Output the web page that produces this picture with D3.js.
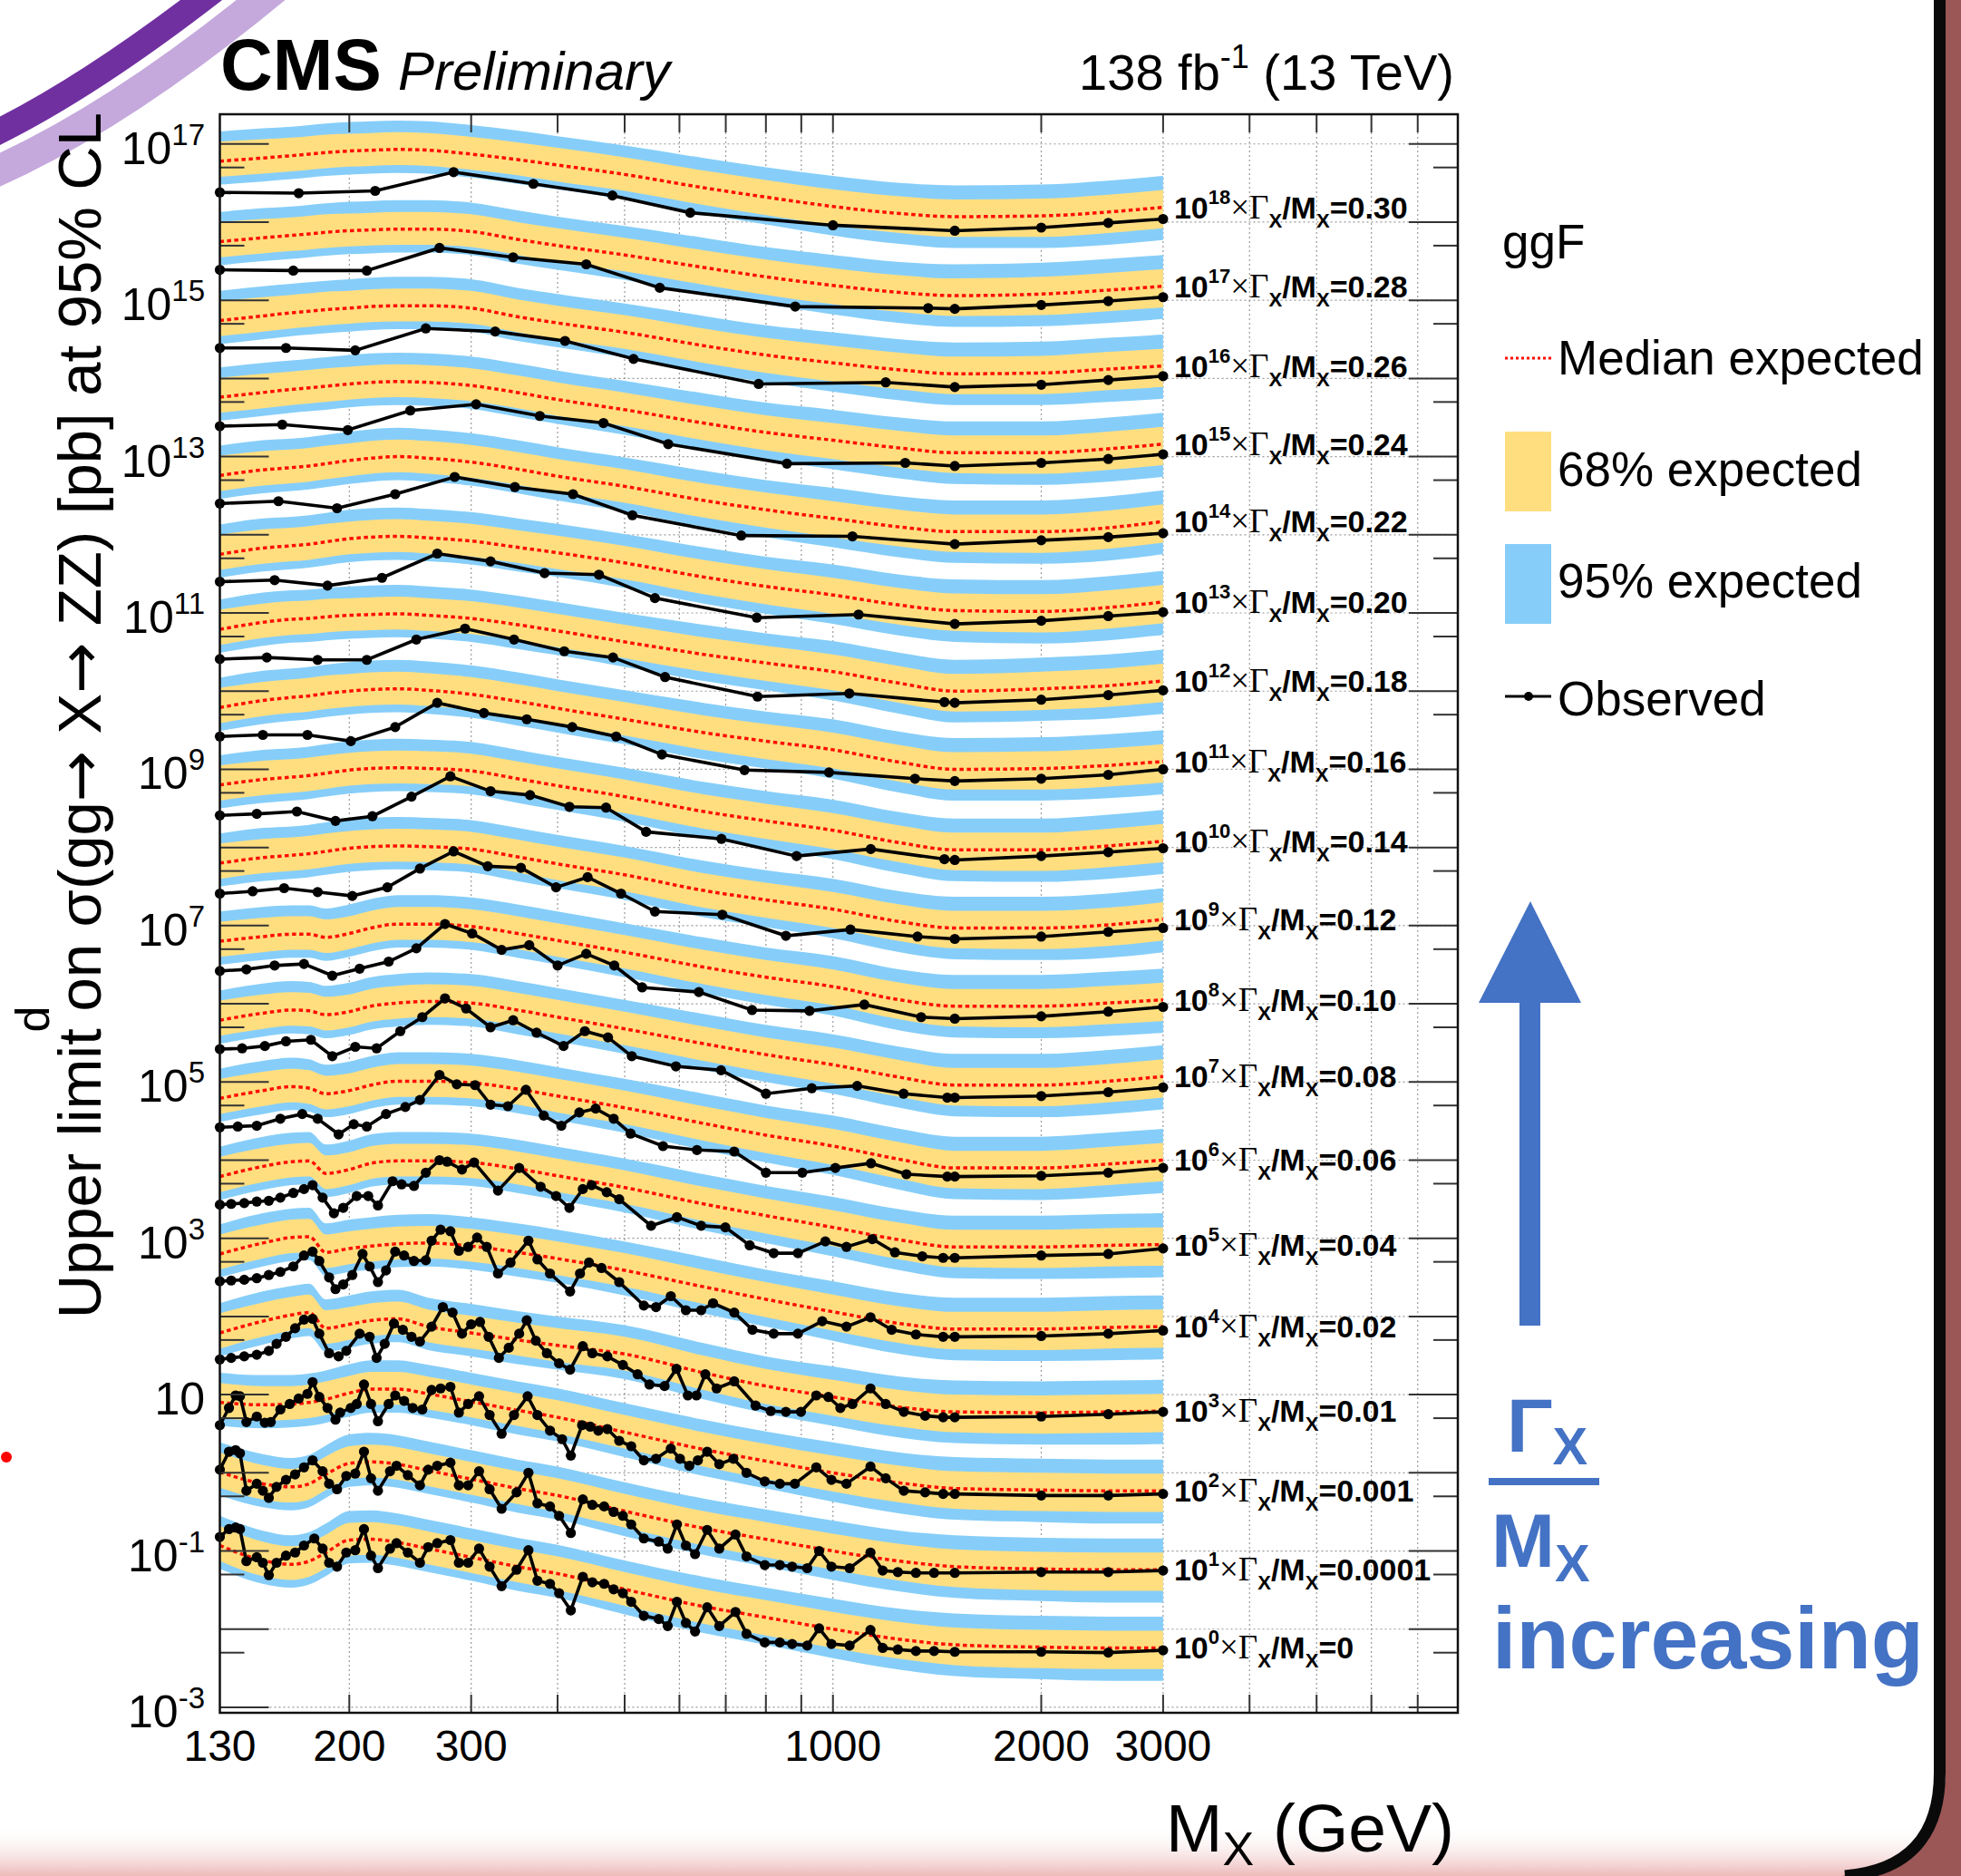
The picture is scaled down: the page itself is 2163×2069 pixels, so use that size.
<!DOCTYPE html>
<html>
<head>
<meta charset="utf-8">
<script src="https://cdn.jsdelivr.net/npm/d3@7"></script>
<style>
  body { margin: 0; background: #fff; }
  svg { display: block; }
  text { font-family: "Liberation Sans", Arial, Helvetica, sans-serif; }
</style>
</head>
<body>
<div id="chart"></div>
<script>
// ---- data (values are log10 of the limit in pb, before the 10^n offset) ----
const widthLabels = ["0.30", "0.28", "0.26", "0.24", "0.22", "0.20", "0.18", "0.16", "0.14", "0.12",
                     "0.10", "0.08", "0.06", "0.04", "0.02", "0.01", "0.001", "0.0001", "0"];
const scalePowers = [18, 17, 16, 15, 14, 13, 12, 11, 10, 9, 8, 7, 6, 5, 4, 3, 2, 1, 0];

const xTickLabels = [130, 200, 300, 1000, 2000, 3000];
const yTickLabelPowers = [17, 15, 13, 11, 9, 7, 5, 3, 1, -1, -3];

const expMass = [130, 150, 165, 175, 185, 200, 215, 235, 260, 300, 350, 400, 500, 650, 800, 1000, 1250, 1500, 2000, 2500, 3000];
// band half-widths in decades around the median
const bandUp2 = [0.38, 0.38, 0.37, 0.37, 0.37, 0.37, 0.37, 0.37, 0.37, 0.37, 0.37, 0.37, 0.37, 0.38, 0.38, 0.39, 0.39, 0.40, 0.40, 0.40, 0.40];
const bandUp1 = [0.25, 0.24, 0.23, 0.23, 0.23, 0.22, 0.22, 0.22, 0.22, 0.22, 0.22, 0.22, 0.22, 0.22, 0.22, 0.22, 0.22, 0.22, 0.22, 0.22, 0.22];
const bandDn1 = [0.20, 0.20, 0.20, 0.20, 0.20, 0.20, 0.20, 0.20, 0.20, 0.20, 0.20, 0.21, 0.21, 0.22, 0.23, 0.24, 0.25, 0.26, 0.27, 0.27, 0.27];
const bandDn2 = [0.30, 0.30, 0.30, 0.30, 0.30, 0.30, 0.30, 0.30, 0.30, 0.30, 0.31, 0.31, 0.32, 0.34, 0.35, 0.37, 0.39, 0.40, 0.41, 0.42, 0.42];

const med_0_30 = [-1.22, -1.18, -1.15, -1.13, -1.11, -1.09, -1.08, -1.07, -1.08, -1.13, -1.20, -1.27, -1.39, -1.56, -1.68, -1.80, -1.89, -1.93, -1.92, -1.87, -1.81];
const med_0_28 = [-1.25, -1.20, -1.17, -1.15, -1.13, -1.11, -1.10, -1.09, -1.09, -1.12, -1.22, -1.30, -1.42, -1.58, -1.70, -1.81, -1.90, -1.94, -1.92, -1.87, -1.82];
const med_0_26 = [-1.26, -1.20, -1.16, -1.14, -1.12, -1.10, -1.08, -1.07, -1.07, -1.10, -1.21, -1.29, -1.41, -1.58, -1.70, -1.80, -1.89, -1.94, -1.93, -1.88, -1.84];
const med_0_24 = [-1.24, -1.18, -1.14, -1.12, -1.10, -1.07, -1.05, -1.04, -1.05, -1.09, -1.18, -1.27, -1.40, -1.57, -1.69, -1.79, -1.89, -1.95, -1.95, -1.90, -1.84];
const med_0_22 = [-1.24, -1.17, -1.14, -1.12, -1.09, -1.05, -1.02, -1.00, -1.02, -1.07, -1.16, -1.25, -1.38, -1.56, -1.68, -1.79, -1.90, -1.96, -1.96, -1.91, -1.83];
const med_0_20 = [-1.25, -1.17, -1.14, -1.12, -1.09, -1.05, -1.03, -1.02, -1.04, -1.08, -1.16, -1.23, -1.36, -1.54, -1.66, -1.77, -1.90, -1.97, -1.98, -1.93, -1.86];
const med_0_18 = [-1.21, -1.12, -1.08, -1.07, -1.05, -1.03, -1.02, -1.01, -1.03, -1.07, -1.15, -1.23, -1.37, -1.53, -1.64, -1.75, -1.90, -2.00, -1.97, -1.93, -1.87];
const med_0_16 = [-1.21, -1.12, -1.08, -1.06, -1.03, -1.00, -0.98, -0.97, -0.99, -1.04, -1.13, -1.22, -1.36, -1.53, -1.64, -1.75, -1.91, -2.00, -1.99, -1.95, -1.90];
const med_0_14 = [-1.20, -1.13, -1.10, -1.08, -1.05, -1.01, -0.99, -0.98, -0.99, -1.02, -1.12, -1.21, -1.35, -1.54, -1.66, -1.78, -1.94, -2.03, -2.03, -1.98, -1.92];
const med_0_12 = [-1.20, -1.13, -1.10, -1.08, -1.05, -1.01, -0.99, -0.98, -0.99, -1.02, -1.12, -1.21, -1.35, -1.55, -1.67, -1.79, -1.95, -2.03, -2.03, -1.99, -1.92];
const med_0_10 = [-1.20, -1.14, -1.11, -1.11, -1.15, -1.10, -1.03, -0.98, -0.98, -1.01, -1.10, -1.19, -1.34, -1.53, -1.66, -1.78, -1.95, -2.03, -2.03, -1.99, -1.95];
const med_0_08 = [-1.21, -1.12, -1.08, -1.09, -1.14, -1.10, -1.03, -0.99, -0.97, -0.99, -1.08, -1.17, -1.32, -1.51, -1.65, -1.78, -1.94, -2.04, -2.04, -1.99, -1.93];
const med_0_06 = [-1.21, -1.11, -1.06, -1.08, -1.15, -1.11, -1.04, -0.99, -0.99, -1.01, -1.09, -1.18, -1.33, -1.53, -1.68, -1.82, -1.99, -2.10, -2.10, -2.05, -2.00];
const med_0_04 = [-1.21, -1.08, -1.02, -1.01, -1.17, -1.12, -1.04, -1.01, -1.01, -1.03, -1.11, -1.20, -1.35, -1.56, -1.71, -1.86, -2.02, -2.11, -2.11, -2.09, -2.08];
const med_0_02 = [-1.20, -1.06, -0.99, -0.98, -1.18, -1.13, -1.10, -1.07, -1.06, -1.10, -1.18, -1.26, -1.41, -1.62, -1.78, -1.94, -2.09, -2.16, -2.16, -2.14, -2.13];
const med_0_01 = [-1.21, -1.06, -0.98, -0.95, -1.15, -1.10, -1.05, -1.03, -1.13, -1.21, -1.30, -1.37, -1.48, -1.72, -1.89, -2.03, -2.16, -2.22, -2.23, -2.22, -2.21];
const med_0_001 = [-1.10, -1.13, -1.12, -1.10, -1.06, -0.98, -0.93, -0.93, -0.99, -1.09, -1.20, -1.29, -1.48, -1.70, -1.85, -2.00, -2.13, -2.20, -2.22, -2.23, -2.23];
const med_0_0001 = [-0.99, -1.14, -1.18, -1.14, -1.02, -0.88, -0.86, -0.89, -0.97, -1.08, -1.20, -1.29, -1.49, -1.71, -1.85, -2.00, -2.13, -2.20, -2.23, -2.24, -2.24];
const med_0 = [-0.93, -1.12, -1.17, -1.13, -1.02, -0.86, -0.85, -0.89, -0.97, -1.08, -1.20, -1.29, -1.49, -1.71, -1.85, -2.00, -2.13, -2.20, -2.23, -2.24, -2.24];

// observed: [mass GeV, log10 limit]
const obs_0_30 = [[130,-1.62],[169,-1.63],[218,-1.60],[283,-1.36],[369,-1.51],[480,-1.66],[622,-1.88],[1000,-2.04],[1500,-2.11],[2000,-2.07],[2500,-2.01],[3000,-1.96]];
const obs_0_28 = [[130,-1.61],[166,-1.62],[212,-1.62],[270,-1.33],[345,-1.45],[440,-1.54],[562,-1.84],[882,-2.08],[1373,-2.10],[1500,-2.11],[2000,-2.06],[2500,-2.01],[3000,-1.96]];
const obs_0_26 = [[130,-1.61],[162,-1.61],[204,-1.64],[258,-1.36],[325,-1.40],[410,-1.52],[515,-1.75],[781,-2.07],[1192,-2.05],[1500,-2.11],[2000,-2.08],[2500,-2.02],[3000,-1.97]];
const obs_0_24 = [[130,-1.61],[160,-1.59],[199,-1.66],[245,-1.41],[305,-1.33],[377,-1.48],[466,-1.57],[578,-1.84],[858,-2.09],[1272,-2.08],[1500,-2.12],[2000,-2.08],[2500,-2.03],[3000,-1.97]];
const obs_0_22 = [[130,-1.60],[158,-1.57],[192,-1.66],[233,-1.48],[284,-1.26],[347,-1.39],[421,-1.48],[513,-1.75],[737,-2.01],[1067,-2.02],[1500,-2.12],[2000,-2.07],[2500,-2.03],[3000,-1.98]];
const obs_0_20 = [[130,-1.60],[156,-1.58],[186,-1.65],[223,-1.55],[268,-1.24],[320,-1.34],[383,-1.49],[459,-1.51],[553,-1.81],[776,-2.06],[1089,-2.02],[1500,-2.14],[2000,-2.10],[2500,-2.04],[3000,-1.99]];
const obs_0_18 = [[130,-1.59],[152,-1.57],[180,-1.60],[212,-1.60],[250,-1.34],[294,-1.20],[346,-1.34],[409,-1.49],[481,-1.57],[572,-1.82],[778,-2.07],[1056,-2.03],[1449,-2.14],[1500,-2.15],[2000,-2.11],[2500,-2.05],[3000,-1.99]];
const obs_0_16 = [[130,-1.58],[150,-1.56],[174,-1.56],[201,-1.64],[233,-1.46],[268,-1.15],[313,-1.28],[361,-1.36],[420,-1.46],[486,-1.58],[566,-1.81],[745,-2.01],[987,-2.04],[1314,-2.12],[1500,-2.15],[2000,-2.12],[2500,-2.07],[3000,-2.00]];
const obs_0_14 = [[130,-1.59],[147,-1.57],[168,-1.54],[191,-1.66],[216,-1.60],[246,-1.35],[280,-1.09],[320,-1.28],[365,-1.33],[416,-1.48],[470,-1.49],[537,-1.80],[690,-1.89],[886,-2.11],[1134,-2.02],[1449,-2.15],[1500,-2.16],[2000,-2.11],[2500,-2.06],[3000,-2.01]];
const obs_0_12 = [[130,-1.59],[145,-1.56],[161,-1.52],[180,-1.57],[202,-1.62],[227,-1.51],[253,-1.27],[283,-1.05],[317,-1.24],[354,-1.26],[398,-1.51],[442,-1.38],[494,-1.59],[553,-1.82],[692,-1.86],[855,-2.13],[1060,-2.05],[1325,-2.14],[1500,-2.17],[2000,-2.14],[2500,-2.08],[3000,-2.03]];
const obs_0_10 = [[130,-1.58],[142,-1.56],[156,-1.51],[172,-1.49],[189,-1.64],[207,-1.55],[228,-1.46],[250,-1.29],[275,-0.98],[301,-1.10],[332,-1.31],[364,-1.25],[400,-1.51],[440,-1.36],[483,-1.51],[530,-1.79],[640,-1.85],[764,-2.08],[925,-2.09],[1110,-2.01],[1341,-2.17],[1500,-2.19],[2000,-2.16],[2500,-2.10],[3000,-2.04]];
const obs_0_08 = [[130,-1.58],[140,-1.57],[151,-1.54],[162,-1.48],[176,-1.46],[189,-1.67],[204,-1.55],[219,-1.57],[237,-1.35],[255,-1.17],[275,-0.93],[295,-1.06],[320,-1.30],[345,-1.21],[373,-1.37],[408,-1.54],[438,-1.35],[473,-1.43],[512,-1.67],[593,-1.80],[689,-1.85],[800,-2.15],[932,-2.08],[1084,-2.05],[1265,-2.15],[1463,-2.20],[1500,-2.20],[2000,-2.18],[2500,-2.13],[3000,-2.07]];
const obs_0_06 = [[130,-1.58],[138,-1.57],[147,-1.56],[159,-1.47],[171,-1.41],[180,-1.47],[193,-1.67],[203,-1.54],[212,-1.57],[226,-1.41],[241,-1.32],[253,-1.23],[270,-0.91],[286,-1.03],[304,-1.04],[320,-1.29],[339,-1.31],[360,-1.10],[382,-1.43],[405,-1.56],[430,-1.39],[454,-1.34],[482,-1.47],[510,-1.66],[568,-1.82],[636,-1.87],[720,-1.89],[800,-2.16],[903,-2.16],[1008,-2.10],[1135,-2.04],[1277,-2.18],[1463,-2.21],[1500,-2.21],[2000,-2.20],[2500,-2.16],[3000,-2.10]];
const obs_0_04 = [[130,-1.57],[135,-1.56],[141,-1.55],[147,-1.53],[153,-1.52],[159,-1.48],[166,-1.42],[172,-1.37],[177,-1.32],[183,-1.48],[190,-1.68],[196,-1.61],[205,-1.46],[213,-1.46],[220,-1.58],[231,-1.27],[238,-1.31],[248,-1.33],[258,-1.16],[270,-1.00],[277,-1.02],[291,-1.12],[303,-1.03],[328,-1.39],[352,-1.10],[378,-1.34],[398,-1.46],[416,-1.61],[435,-1.37],[448,-1.32],[471,-1.41],[491,-1.50],[546,-1.84],[595,-1.73],[645,-1.84],[699,-1.86],[758,-2.09],[821,-2.19],[890,-2.19],[975,-2.04],[1046,-2.11],[1140,-2.01],[1229,-2.18],[1346,-2.23],[1443,-2.25],[1500,-2.25],[2000,-2.22],[2500,-2.20],[3000,-2.13]];
const obs_0_02 = [[130,-1.55],[135,-1.54],[141,-1.53],[147,-1.51],[153,-1.47],[159,-1.43],[166,-1.36],[172,-1.22],[177,-1.17],[181,-1.29],[187,-1.50],[191,-1.65],[196,-1.59],[202,-1.47],[209,-1.20],[214,-1.36],[220,-1.56],[226,-1.41],[233,-1.17],[240,-1.22],[248,-1.29],[258,-1.28],[263,-1.03],[271,-0.89],[280,-0.91],[288,-1.16],[297,-1.11],[306,-0.99],[316,-1.11],[328,-1.45],[342,-1.31],[363,-1.03],[374,-1.27],[390,-1.45],[417,-1.68],[431,-1.45],[444,-1.31],[463,-1.38],[491,-1.56],[533,-1.86],[555,-1.88],[583,-1.74],[613,-1.92],[645,-1.92],[671,-1.83],[720,-1.95],[765,-2.17],[821,-2.22],[890,-2.22],[965,-2.06],[1046,-2.13],[1133,-2.01],[1216,-2.17],[1318,-2.23],[1443,-2.26],[1500,-2.26],[2000,-2.25],[2500,-2.22],[3000,-2.18]];
const obs_0_01 = [[130,-1.55],[135,-1.53],[141,-1.51],[147,-1.49],[153,-1.44],[157,-1.35],[162,-1.26],[167,-1.15],[172,-1.04],[177,-1.03],[181,-1.22],[187,-1.47],[193,-1.51],[198,-1.44],[207,-1.22],[214,-1.26],[219,-1.53],[225,-1.35],[232,-1.09],[239,-1.17],[246,-1.26],[253,-1.32],[263,-1.13],[273,-0.88],[282,-0.95],[291,-1.22],[300,-1.10],[309,-1.07],[318,-1.26],[329,-1.53],[340,-1.40],[352,-1.22],[361,-1.05],[372,-1.31],[386,-1.47],[402,-1.60],[417,-1.68],[435,-1.38],[449,-1.47],[472,-1.51],[497,-1.62],[522,-1.74],[543,-1.87],[571,-1.89],[594,-1.67],[617,-2.01],[635,-2.01],[654,-1.74],[679,-1.92],[720,-1.83],[773,-2.14],[813,-2.21],[855,-2.22],[899,-2.22],[946,-2.01],[985,-2.03],[1025,-2.17],[1067,-2.12],[1133,-1.92],[1192,-2.12],[1266,-2.22],[1359,-2.27],[1443,-2.29],[1500,-2.29],[2000,-2.28],[2500,-2.25],[3000,-2.22]];
const obs_0_001 = [[130,-1.39],[134,-1.17],[137,-1.01],[139,-1.02],[142,-1.35],[147,-1.28],[151,-1.36],[154,-1.35],[159,-1.19],[164,-1.12],[169,-1.05],[174,-0.99],[177,-0.84],[181,-1.03],[186,-1.17],[191,-1.32],[194,-1.23],[201,-1.17],[205,-1.12],[210,-0.87],[215,-1.12],[220,-1.34],[228,-1.12],[233,-1.01],[240,-1.08],[247,-1.17],[255,-1.19],[263,-0.94],[271,-0.92],[280,-0.90],[288,-1.23],[297,-1.12],[308,-1.02],[319,-1.26],[332,-1.50],[346,-1.26],[362,-1.02],[374,-1.26],[390,-1.46],[406,-1.57],[418,-1.78],[434,-1.39],[446,-1.41],[458,-1.46],[472,-1.44],[491,-1.59],[511,-1.66],[533,-1.84],[555,-1.82],[583,-1.69],[601,-1.82],[620,-1.91],[638,-1.84],[658,-1.73],[685,-1.89],[718,-1.82],[750,-2.00],[797,-2.11],[838,-2.14],[881,-2.14],[946,-1.93],[995,-2.09],[1046,-2.14],[1133,-1.92],[1192,-2.07],[1266,-2.23],[1359,-2.25],[1443,-2.27],[1500,-2.27],[2000,-2.29],[2500,-2.29],[3000,-2.27]];
const obs_0_0001 = [[130,-0.96],[134,-0.73],[137,-0.71],[139,-0.75],[142,-1.23],[147,-1.14],[150,-1.23],[153,-1.32],[157,-1.18],[162,-1.09],[167,-1.02],[172,-0.93],[177,-0.84],[183,-0.98],[187,-1.14],[192,-1.21],[198,-1.04],[204,-1.01],[210,-0.73],[215,-1.07],[220,-1.23],[229,-0.98],[234,-0.91],[243,-1.03],[253,-1.16],[260,-0.96],[268,-0.91],[280,-0.87],[288,-1.16],[297,-1.16],[308,-0.98],[319,-1.21],[332,-1.46],[349,-1.25],[363,-1.00],[374,-1.39],[390,-1.43],[402,-1.55],[418,-1.77],[435,-1.34],[449,-1.41],[467,-1.43],[482,-1.50],[497,-1.55],[511,-1.66],[533,-1.84],[560,-1.88],[577,-1.97],[595,-1.66],[613,-1.93],[632,-2.04],[658,-1.73],[685,-1.97],[723,-1.79],[750,-2.07],[797,-2.18],[838,-2.18],[873,-2.20],[918,-2.22],[955,-2.00],[995,-2.20],[1057,-2.22],[1133,-2.02],[1180,-2.25],[1241,-2.27],[1318,-2.28],[1400,-2.28],[1500,-2.28],[2000,-2.27],[2500,-2.27],[3000,-2.25]];
const obs_0 = [[130,-0.82],[134,-0.72],[137,-0.70],[139,-0.72],[142,-1.13],[147,-1.08],[150,-1.15],[153,-1.31],[157,-1.15],[162,-1.06],[167,-1.02],[172,-0.93],[178,-0.84],[183,-0.97],[187,-1.15],[192,-1.20],[198,-1.02],[204,-0.99],[210,-0.72],[215,-1.06],[220,-1.22],[229,-0.97],[234,-0.90],[243,-1.02],[253,-1.15],[260,-0.95],[268,-0.90],[280,-0.86],[288,-1.15],[297,-1.15],[308,-0.97],[319,-1.20],[332,-1.45],[349,-1.24],[363,-0.99],[374,-1.38],[390,-1.42],[402,-1.54],[418,-1.76],[435,-1.33],[449,-1.40],[467,-1.42],[482,-1.49],[497,-1.54],[511,-1.65],[533,-1.83],[560,-1.87],[577,-1.96],[595,-1.65],[613,-1.92],[632,-2.03],[658,-1.72],[685,-1.96],[723,-1.78],[750,-2.06],[797,-2.17],[838,-2.17],[873,-2.19],[918,-2.21],[955,-1.99],[995,-2.19],[1057,-2.21],[1133,-2.01],[1180,-2.24],[1241,-2.26],[1318,-2.28],[1400,-2.28],[1500,-2.29],[2000,-2.29],[2500,-2.30],[3000,-2.27]];

const medians = [med_0_30, med_0_28, med_0_26, med_0_24, med_0_22, med_0_20, med_0_18, med_0_16, med_0_14, med_0_12,
                 med_0_10, med_0_08, med_0_06, med_0_04, med_0_02, med_0_01, med_0_001, med_0_0001, med_0];
const observed = [obs_0_30, obs_0_28, obs_0_26, obs_0_24, obs_0_22, obs_0_20, obs_0_18, obs_0_16, obs_0_14, obs_0_12,
                  obs_0_10, obs_0_08, obs_0_06, obs_0_04, obs_0_02, obs_0_01, obs_0_001, obs_0_0001, obs_0];

// ---- layout ----
const W = 2163, H = 2069;
const plot = { left: 242.5, right: 1608, top: 126, bottom: 1889 };
const blue = "#86CEF9", yellow = "#FFDE80";
const accent = "#4472C4";
const serif = "'Liberation Serif', 'Times New Roman', serif";

const x = d3.scaleLog().domain([130, 8000]).range([plot.left, plot.right]);
const y = d3.scaleLog().domain([Math.pow(10, -3.07), Math.pow(10, 17.38)]).range([plot.bottom, plot.top]);
const p10 = v => Math.pow(10, v);

const svg = d3.select("#chart").append("svg")
    .attr("width", W)
    .attr("height", H);

svg.append("rect").attr("width", W).attr("height", H).attr("fill", "#fff");

// slide decoration around the figure
const defs = svg.append("defs");
const grad = defs.append("linearGradient").attr("id", "pinkfade").attr("x1", 0).attr("x2", 0).attr("y1", 0).attr("y2", 1);
grad.append("stop").attr("offset", "0%").attr("stop-color", "#fff").attr("stop-opacity", 0);
grad.append("stop").attr("offset", "100%").attr("stop-color", "#EDB9B9");
svg.append("rect").attr("x", 0).attr("y", 2012).attr("width", W).attr("height", 57).attr("fill", "url(#pinkfade)");

svg.append("path")
    .attr("d", "M-20,196 Q130,132 312,-20")
    .attr("fill", "none").attr("stroke", "#C5A9DC").attr("stroke-width", 34);
svg.append("path")
    .attr("d", "M-20,154 Q95,100 248,-20")
    .attr("fill", "none").attr("stroke", "#7030A0").attr("stroke-width", 28);

svg.append("circle").attr("cx", 7).attr("cy", 1607).attr("r", 6).attr("fill", "#f00");
svg.append("text")
    .attr("transform", "translate(54,1124) rotate(-90)")
    .attr("text-anchor", "middle")
    .attr("font-size", 52)
    .text("d");

svg.append("path")
    .attr("d", "M2146,0 L2163,0 L2163,2069 L2030,2069 Q2146,2060 2146,1950 Z")
    .attr("fill", "#9B5656");
svg.append("path")
    .attr("d", "M2139.5,0 L2139.5,1955 Q2139.5,2060 2035,2069")
    .attr("fill", "none").attr("stroke", "#0a0a0a").attr("stroke-width", 13);

// ---- grid ----
const xTicks = [200, 300, 400, 500, 600, 700, 800, 900, 1000, 2000, 3000, 4000, 5000, 6000, 7000];
const decades = d3.range(-3, 18);
const halfDecades = d3.range(-4, 17).map(n => 5 * p10(n)).filter(v => y(v) > plot.top && y(v) < plot.bottom);

const grid = svg.append("g")
    .attr("stroke", "#9a9a9a")
    .attr("stroke-width", 1.2)
    .attr("stroke-dasharray", "2,3");
grid.selectAll(".hg").data(decades).enter().append("line")
    .attr("x1", plot.left).attr("x2", plot.right)
    .attr("y1", d => y(p10(d))).attr("y2", d => y(p10(d)));
grid.selectAll(".vg").data(xTicks).enter().append("line")
    .attr("x1", d => x(d)).attr("x2", d => x(d))
    .attr("y1", plot.top).attr("y2", plot.bottom);

// ---- bands, medians, observed ----
const curves = widthLabels.map((w, i) => ({ width: w, power: scalePowers[i], median: medians[i], obs: observed[i] }));

const gBands = svg.append("g");
const gMed = svg.append("g");
const gObs = svg.append("g");

curves.forEach(c => {
    const pts = expMass.map((m, j) => ({ m: m, v: c.median[j], j: j }));
    const band = (up, dn) => d3.area()
        .x(d => x(d.m))
        .y0(d => y(p10(d.v - dn[d.j] + c.power)))
        .y1(d => y(p10(d.v + up[d.j] + c.power)))
        .curve(d3.curveMonotoneX);

    gBands.append("path").datum(pts).attr("d", band(bandUp2, bandDn2)).attr("fill", blue);
    gBands.append("path").datum(pts).attr("d", band(bandUp1, bandDn1)).attr("fill", yellow);

    gMed.append("path").datum(pts)
        .attr("d", d3.line().x(d => x(d.m)).y(d => y(p10(d.v + c.power))).curve(d3.curveMonotoneX))
        .attr("fill", "none")
        .attr("stroke", "#ff0d00")
        .attr("stroke-width", 3.5)
        .attr("stroke-dasharray", "4.5,3.5");

    gObs.append("path").datum(c.obs)
        .attr("d", d3.line().x(d => x(d[0])).y(d => y(p10(d[1] + c.power))))
        .attr("fill", "none")
        .attr("stroke", "#000")
        .attr("stroke-width", 3.6);
    gObs.selectAll(null).data(c.obs).enter().append("circle")
        .attr("cx", d => x(d[0]))
        .attr("cy", d => y(p10(d[1] + c.power)))
        .attr("r", 5.6)
        .attr("fill", "#000");
});

// ---- frame and ticks ----
const axes = svg.append("g").attr("stroke", "#333").attr("stroke-width", 2);
axes.selectAll(".xtb").data(xTicks).enter().append("line")
    .attr("x1", d => x(d)).attr("x2", d => x(d))
    .attr("y1", plot.bottom).attr("y2", plot.bottom - 20);
axes.selectAll(".xtt").data(xTicks).enter().append("line")
    .attr("x1", d => x(d)).attr("x2", d => x(d))
    .attr("y1", plot.top).attr("y2", plot.top + 20);
[[plot.left, 1], [plot.right, -1]].forEach(([x0, dir]) => {
    axes.selectAll(null).data(decades).enter().append("line")
        .attr("x1", x0).attr("x2", x0 + dir * 54)
        .attr("y1", d => y(p10(d))).attr("y2", d => y(p10(d)));
    axes.selectAll(null).data(halfDecades).enter().append("line")
        .attr("x1", x0).attr("x2", x0 + dir * 27)
        .attr("y1", d => y(d)).attr("y2", d => y(d));
});
svg.append("rect")
    .attr("x", plot.left).attr("y", plot.top)
    .attr("width", plot.right - plot.left).attr("height", plot.bottom - plot.top)
    .attr("fill", "none").attr("stroke", "#111").attr("stroke-width", 2.5);

// tick labels
svg.append("g").selectAll("text").data(xTickLabels).enter().append("text")
    .attr("x", d => x(d)).attr("y", 1942)
    .attr("text-anchor", "middle")
    .attr("font-size", 48)
    .text(d => d);

yTickLabelPowers.forEach(n => {
    const t = svg.append("text")
        .attr("x", 226).attr("y", y(p10(n)) + 22)
        .attr("text-anchor", "end")
        .attr("font-size", 50);
    t.append("tspan").text("10");
    if (n !== 1) t.append("tspan").attr("font-size", 33).attr("dy", -21).text(n < 0 ? "-" + (-n) : n);
});

// axis titles
const xt = svg.append("text").attr("x", 1604).attr("y", 2042).attr("text-anchor", "end").attr("font-size", 75);
xt.append("tspan").text("M");
xt.append("tspan").attr("font-size", 52).attr("dy", 15).text("X");
xt.append("tspan").attr("dy", -15).text(" (GeV)");

const arrowFont = "'DejaVu Sans', sans-serif";
const yt = svg.append("text")
    .attr("transform", "translate(111,124) rotate(-90)")
    .attr("text-anchor", "end")
    .attr("font-size", 67);
yt.append("tspan").text("Upper limit on σ(gg");
yt.append("tspan").attr("font-family", arrowFont).text("→");
yt.append("tspan").text(" X");
yt.append("tspan").attr("font-family", arrowFont).text("→");
yt.append("tspan").text(" ZZ) [pb] at 95% CL");

svg.append("text").attr("x", 243).attr("y", 99).attr("font-size", 80).attr("font-weight", "bold").text("CMS");
svg.append("text").attr("x", 439).attr("y", 99).attr("font-size", 60).attr("font-style", "italic").text("Preliminary");
const lumi = svg.append("text").attr("x", 1604).attr("y", 99).attr("text-anchor", "end").attr("font-size", 56);
lumi.append("tspan").text("138 fb");
lumi.append("tspan").attr("font-size", 36).attr("dy", -24).text("-1");
lumi.append("tspan").attr("dy", 24).text(" (13 TeV)");

// curve labels, centred on the median at 3000 GeV
curves.forEach(c => {
    const endMedian = c.median[c.median.length - 1];
    const t = svg.append("text")
        .attr("x", x(3000) + 12)
        .attr("y", y(p10(endMedian + c.power)) + 12)
        .attr("font-size", 34)
        .attr("font-weight", "bold");
    t.append("tspan").text("10");
    t.append("tspan").attr("font-size", 22).attr("dy", -16).text(c.power);
    t.append("tspan").attr("dy", 16)
        .attr("font-family", serif)
        .attr("font-weight", "normal").attr("font-size", 37).text("×Γ");
    t.append("tspan").attr("font-size", 22).attr("dy", 10).text("X");
    t.append("tspan").attr("dy", -10).text("/M");
    t.append("tspan").attr("font-size", 22).attr("dy", 10).text("X");
    t.append("tspan").attr("dy", -10).text("=" + c.width);
});

// ---- legend ----
const leg = svg.append("g").attr("font-size", 53);
leg.append("text").attr("x", 1657).attr("y", 285).text("ggF");
leg.append("line").attr("x1", 1660).attr("x2", 1711).attr("y1", 395).attr("y2", 395)
    .attr("stroke", "#ff0d00").attr("stroke-width", 3).attr("stroke-dasharray", "3,3");
leg.append("text").attr("x", 1718).attr("y", 413).text("Median expected");
leg.append("rect").attr("x", 1660).attr("y", 476).attr("width", 51).attr("height", 88).attr("fill", yellow);
leg.append("text").attr("x", 1718).attr("y", 536).text("68% expected");
leg.append("rect").attr("x", 1660).attr("y", 600).attr("width", 51).attr("height", 88).attr("fill", blue);
leg.append("text").attr("x", 1718).attr("y", 659).text("95% expected");
leg.append("line").attr("x1", 1660).attr("x2", 1711).attr("y1", 768).attr("y2", 768)
    .attr("stroke", "#000").attr("stroke-width", 3);
leg.append("circle").attr("cx", 1686).attr("cy", 768).attr("r", 5).attr("fill", "#000");
leg.append("text").attr("x", 1718).attr("y", 789).text("Observed");

// ---- annotation: arrow and Gamma/M increasing ----
svg.append("rect").attr("x", 1676).attr("y", 1100).attr("width", 23).attr("height", 362).attr("fill", accent);
svg.append("path").attr("d", "M1688,994 L1744,1106 L1631,1106 Z").attr("fill", accent);

const gam = svg.append("text").attr("x", 1662).attr("y", 1601)
    .attr("font-family", serif).attr("font-weight", "bold").attr("font-size", 84).attr("fill", accent);
gam.append("tspan").text("Γ");
gam.append("tspan").attr("font-size", 58).attr("dy", 14).text("X");
svg.append("rect").attr("x", 1642).attr("y", 1630).attr("width", 122).attr("height", 8).attr("fill", accent);
const mx = svg.append("text").attr("x", 1645).attr("y", 1728)
    .attr("font-family", serif).attr("font-weight", "bold").attr("font-size", 84).attr("fill", accent);
mx.append("tspan").text("M");
mx.append("tspan").attr("font-size", 58).attr("dy", 16).text("X");
svg.append("text").attr("x", 1646).attr("y", 1840)
    .attr("font-weight", "bold").attr("font-size", 96).attr("fill", accent)
    .attr("textLength", 476).attr("lengthAdjust", "spacingAndGlyphs")
    .text("increasing");
</script>
</body>
</html>
